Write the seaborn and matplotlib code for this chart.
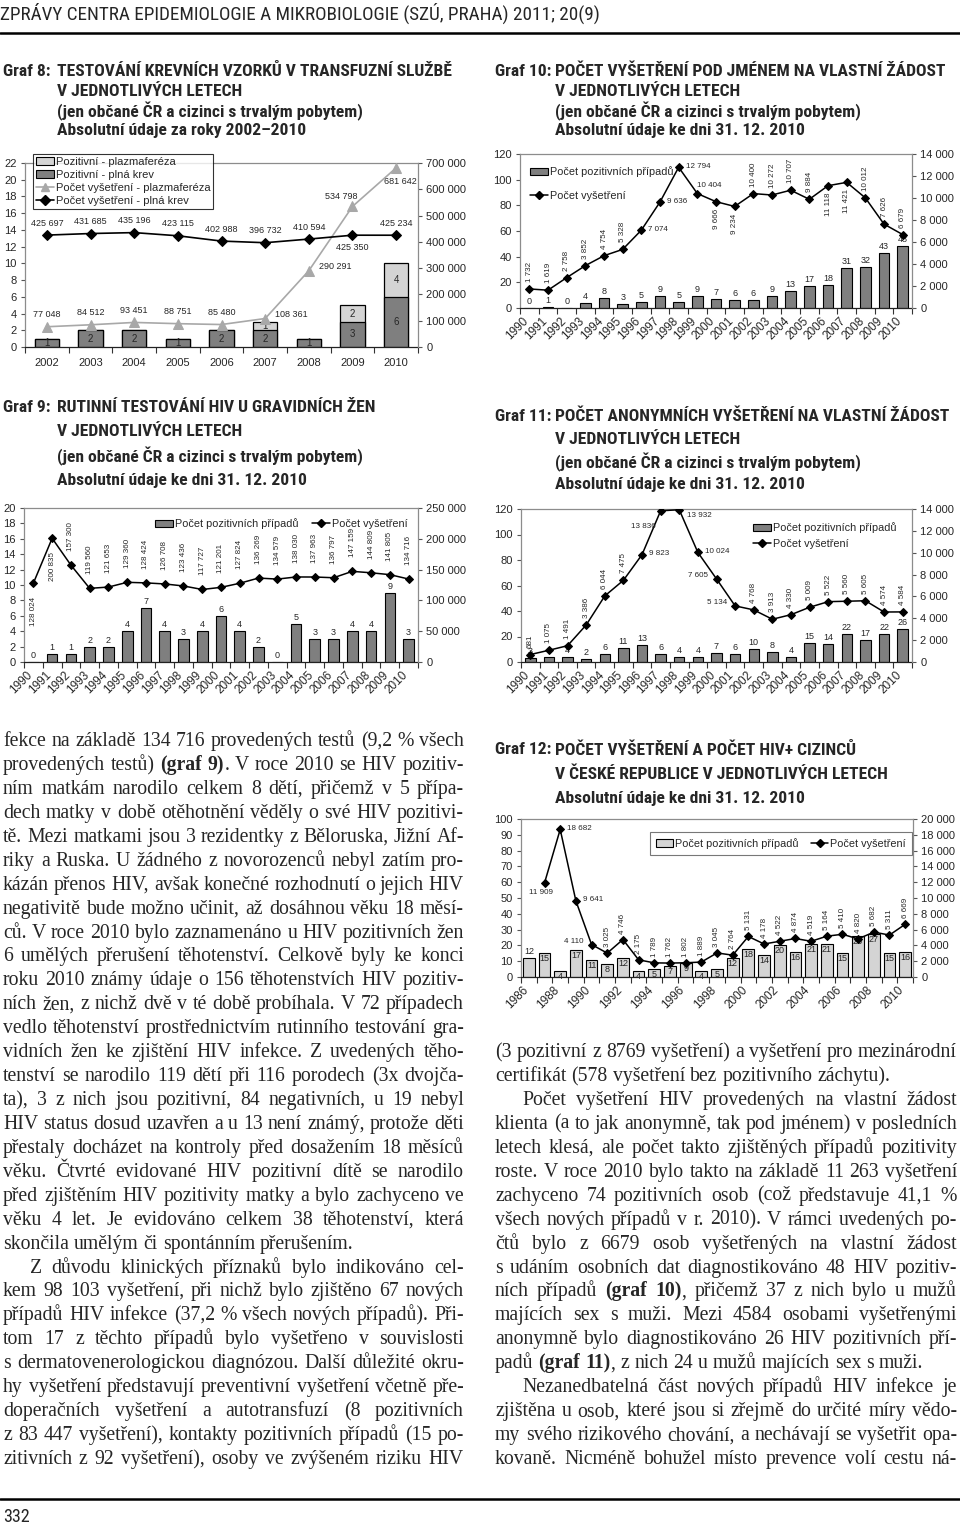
import numpy as np
import matplotlib
matplotlib.use("Agg")
import matplotlib.pyplot as plt
import matplotlib.patches as mpatches
import matplotlib.transforms as mtrans
from matplotlib.lines import Line2D
from matplotlib import font_manager
from matplotlib.font_manager import FontProperties
import seaborn as sns

# ----------------------------
# Data
# ----------------------------
g8_years = ["2002", "2003", "2004", "2005", "2006", "2007", "2008", "2009", "2010"]
g8_pos_krev = [1, 2, 2, 1, 2, 2, 1, 3, 6]
g8_pos_plazma = [0, 0, 0, 0, 0, 1, 0, 2, 4]
g8_vys_krev = [425697, 431685, 435196, 423115, 402988, 396732, 410594, 425350, 425234]
g8_vys_plazma = [77048, 84512, 93451, 88751, 85480, 108361, 290291, 534798, 681642]

years_90 = [str(y) for y in range(1990, 2011)]

g9_pos = [0, 1, 1, 2, 2, 4, 7, 4, 3, 4, 6, 4, 2, 0, 5, 3, 3, 4, 4, 9, 3]
g9_vys = [128024, 200835, 157300, 119560, 121653, 129360, 128424, 126708, 123436,
          117727, 121201, 127824, 136269, 134579, 138030, 137963, 136797, 147159,
          144809, 141805, 134716]

g10_pos = [0, 1, 0, 4, 8, 3, 5, 9, 5, 9, 7, 6, 6, 9, 13, 17, 18, 31, 32, 43, 48]
g10_vys = [1732, 1619, 2758, 3852, 4754, 5328, 7074, 9636, 12794, 10404, 9666,
           9234, 10400, 10272, 10707, 9884, 11118, 11421, 10012, 7626, 6679]

g11_pos = [3, 4, 4, 2, 6, 11, 13, 6, 4, 4, 7, 6, 10, 8, 4, 15, 14, 22, 17, 22, 26]
g11_vys = [681, 1075, 1491, 3386, 6044, 7475, 9823, 13836, 13932, 10024, 7605,
           5134, 4768, 3913, 4330, 5009, 5522, 5560, 5605, 4574, 4584]

g12_years = [str(y) for y in range(1986, 2011)]
g12_pos = [12, 15, 4, 17, 11, 8, 12, 4, 5, 7, 9, 4, 5, 12, 18, 14, 20, 16, 21, 21,
           15, 26, 27, 15, 16]
g12_vys_years = g12_years[1:]
g12_vys = [11909, 18682, 9641, 4110, 3025, 4746, 2175, 1789, 1762, 1802, 1889, 3045,
           2764, 5131, 4178, 4522, 4874, 4519, 5164, 5410, 4820, 5682, 5311, 6669]

LEG_POS = "Počet pozitivních případů"
LEG_VYS = "Počet vyšetření"

# ----------------------------
# Page text
# ----------------------------
HEADER = "ZPRÁVY CENTRA EPIDEMIOLOGIE A MIKROBIOLOGIE (SZÚ, PRAHA) 2011; 20(9)"
PAGE_NO = "332"

T8 = ["TESTOVÁNÍ KREVNÍCH VZORKŮ V TRANSFUZNÍ SLUŽBĚ", "V JEDNOTLIVÝCH LETECH",
      "(jen občané ČR a cizinci s trvalým pobytem)", "Absolutní údaje za roky 2002–2010"]
T10 = ["POČET VYŠETŘENÍ POD JMÉNEM NA VLASTNÍ ŽÁDOST", "V JEDNOTLIVÝCH LETECH",
       "(jen občané ČR a cizinci s trvalým pobytem)", "Absolutní údaje ke dni 31. 12. 2010"]
T9 = ["RUTINNÍ TESTOVÁNÍ HIV U GRAVIDNÍCH ŽEN", "V JEDNOTLIVÝCH LETECH",
      "(jen občané ČR a cizinci s trvalým pobytem)", "Absolutní údaje ke dni 31. 12. 2010"]
T11 = ["POČET ANONYMNÍCH VYŠETŘENÍ NA VLASTNÍ ŽÁDOST", "V JEDNOTLIVÝCH LETECH",
       "(jen občané ČR a cizinci s trvalým pobytem)", "Absolutní údaje ke dni 31. 12. 2010"]
T12 = ["POČET VYŠETŘENÍ A POČET HIV+ CIZINCŮ", "V ČESKÉ REPUBLICE V JEDNOTLIVÝCH LETECH",
       "Absolutní údaje ke dni 31. 12. 2010"]

# ">" = indented first line, "|" = last line of paragraph, **..** = bold
LEFT_TEXT = [
    "fekce na základě 134 716 provedených testů (9,2 % všech",
    "provedených testů) **(graf 9)**. V roce 2010 se HIV pozitiv-",
    "ním matkám narodilo celkem 8 dětí, přičemž v 5 přípa-",
    "dech matky v době otěhotnění věděly o své HIV pozitivi-",
    "tě. Mezi matkami jsou 3 rezidentky z Běloruska, Jižní Af-",
    "riky a Ruska. U žádného z novorozenců nebyl zatím pro-",
    "kázán přenos HIV, avšak konečné rozhodnutí o jejich HIV",
    "negativitě bude možno učinit, až dosáhnou věku 18 měsí-",
    "ců. V roce 2010 bylo zaznamenáno u HIV pozitivních žen",
    "6 umělých přerušení těhotenství. Celkově byly ke konci",
    "roku 2010 známy údaje o 156 těhotenstvích HIV pozitiv-",
    "ních žen, z nichž dvě v té době probíhala. V 72 případech",
    "vedlo těhotenství prostřednictvím rutinního testování gra-",
    "vidních žen ke zjištění HIV infekce. Z uvedených těho-",
    "tenství se narodilo 119 dětí při 116 porodech (3x dvojča-",
    "ta), 3 z nich jsou pozitivní, 84 negativních, u 19 nebyl",
    "HIV status dosud uzavřen a u 13 není známý, protože děti",
    "přestaly docházet na kontroly před dosažením 18 měsíců",
    "věku. Čtvrté evidované HIV pozitivní dítě se narodilo",
    "před zjištěním HIV pozitivity matky a bylo zachyceno ve",
    "věku 4 let. Je evidováno celkem 38 těhotenství, která",
    "skončila umělým či spontánním přerušením.|",
    ">Z důvodu klinických příznaků bylo indikováno cel-",
    "kem 98 103 vyšetření, při nichž bylo zjištěno 67 nových",
    "případů HIV infekce (37,2 % všech nových případů). Při-",
    "tom 17 z těchto případů bylo vyšetřeno v souvislosti",
    "s dermatovenerologickou diagnózou. Další důležité okru-",
    "hy vyšetření představují preventivní vyšetření včetně pře-",
    "doperačních vyšetření a autotransfuzí (8 pozitivních",
    "z 83 447 vyšetření), kontakty pozitivních případů (15 po-",
    "zitivních z 92 vyšetření), osoby ve zvýšeném riziku HIV",
]

RIGHT_TEXT = [
    "(3 pozitivní z 8769 vyšetření) a vyšetření pro mezinárodní",
    "certifikát (578 vyšetření bez pozitivního záchytu).|",
    ">Počet vyšetření HIV provedených na vlastní žádost",
    "klienta (a to jak anonymně, tak pod jménem) v posledních",
    "letech klesá, ale počet takto zjištěných případů pozitivity",
    "roste. V roce 2010 bylo takto na základě 11 263 vyšetření",
    "zachyceno 74 pozitivních osob (což představuje 41,1 %",
    "všech nových případů v r. 2010). V rámci uvedených po-",
    "čtů bylo z 6679 osob vyšetřených na vlastní žádost",
    "s udáním osobních dat diagnostikováno 48 HIV pozitiv-",
    "ních případů **(graf 10)**, přičemž 37 z nich bylo u mužů",
    "majících sex s muži. Mezi 4584 osobami vyšetřenými",
    "anonymně bylo diagnostikováno 26 HIV pozitivních pří-",
    "padů **(graf 11)**, z nich 24 u mužů majících sex s muži.|",
    ">Nezanedbatelná část nových případů HIV infekce je",
    "zjištěna u osob, které jsou si zřejmě do určité míry vědo-",
    "my svého rizikového chování, a nechávají se vyšetřit opa-",
    "kovaně. Nicméně bohužel místo prevence volí cestu ná-",
]

# ----------------------------
# Style
# ----------------------------
sns.set_style("ticks")
_names = {f.name for f in font_manager.fontManager.ttflist}
# sizes for title, header, page number
if "Liberation Sans Narrow" in _names:
    NARROW, SZ_T, SZ_H, SZ_P = "Liberation Sans Narrow", 11.8, 13.5, 13.5
elif "Roboto Condensed" in _names:
    NARROW, SZ_T, SZ_H, SZ_P = "Roboto Condensed", 12.6, 13.8, 13.1
else:
    NARROW, SZ_T, SZ_H, SZ_P = "Liberation Sans", 10.4, 11.3, 11.5
SANS = "Liberation Sans"
SERIF = "Liberation Serif"
plt.rcParams["font.family"] = [SANS, "DejaVu Sans"]

DARK = "#7f7f7f"
LIGHT = "#d4d4d4"
TRI = "#a8a8a8"
FRAME = "#8c8c8c"

W, H = 960, 1531
fig = plt.figure(figsize=(W / 100, H / 100), dpi=100)
fig.patch.set_facecolor("white")


def box(x0, y0, x1, y1):
    return [x0 / W, 1 - y1 / H, (x1 - x0) / W, (y1 - y0) / H]


def ptext(x, y, s, **kw):
    return fig.text(x / W, 1 - y / H, s, **kw)


def fmt(v):
    return f"{v:,}".replace(",", " ")


# label placement codes: dx, dy (pixels), ha, va, rotation
PLACE = {
    "A": (0, 12, "center", "center", 0),
    "B": (0, -12, "center", "center", 0),
    "r": (7, 1, "left", "center", 0),
    "R": (10, 4, "left", "center", 0),
    "l": (-8, 3, "right", "center", 0),
    "U": (-11, 10, "center", "center", 0),
    "D": (4, -14, "center", "center", 0),
    "u": (0, 8, "left", "center", 0),
    "L": (-5, -16, "right", "center", 0),
    "E": (8, -6, "left", "center", 0),
    "S": (-4, -10, "center", "center", 0),
}


def line_labels(ax, xs, vals, codes, size, voff=7):
    for x, v, c in zip(xs, vals, codes):
        if c == "a":
            dx, dy, ha, va, rot = 0, voff, "center", "bottom", 90
        elif c == "b":
            dx, dy, ha, va, rot = 0, -voff, "center", "top", 90
        else:
            dx, dy, ha, va, rot = PLACE[c]
        ax.annotate(fmt(v), (x, v), xytext=(dx, dy), textcoords="offset pixels",
                    ha=ha, va=va, rotation=rot, fontsize=size, family=SANS)


def frame(ax, ax2, n):
    for s in ["left", "top", "right"]:
        ax.spines[s].set_color(FRAME)
        ax.spines[s].set_linewidth(0.9)
    ax.spines["right"].set_visible(False)
    ax.spines["bottom"].set_color("#222222")
    ax.spines["bottom"].set_linewidth(0.9)
    for s in ["left", "top", "bottom"]:
        ax2.spines[s].set_visible(False)
    ax2.spines["right"].set_color(FRAME)
    ax2.spines["right"].set_linewidth(0.9)
    ax.set_xlim(-0.5, n - 0.5)
    ax.set_xticks(np.arange(n + 1) - 0.5, minor=True)
    ax.tick_params(axis="x", which="minor", length=4, width=0.8, color="#333333")
    ax.tick_params(axis="x", which="major", length=0)
    ax.tick_params(axis="y", length=3, width=0.8, color="#555555", labelsize=8, pad=3)
    ax2.tick_params(axis="y", length=3, width=0.8, color="#555555", labelsize=8, pad=3)
    ax.set_xlabel("")
    ax.set_ylabel("")
    ax2.set_ylabel("")


def right_axis(ax2, top, step):
    ticks = np.arange(0, top + 1, step)
    ax2.set_ylim(0, top)
    ax2.set_yticks(ticks)
    ax2.set_yticklabels([fmt(int(t)) for t in ticks])


def rot_labels(ax, pos, labels):
    ax.set_xticks(pos)
    ax.set_xticklabels(labels, rotation=45, ha="right", va="top",
                       rotation_mode="anchor", fontsize=8.5)
    ax.tick_params(axis="x", which="major", pad=5)
    off = mtrans.ScaledTranslation(-5 / 72, 0, fig.dpi_scale_trans)
    for t in ax.get_xticklabels():
        t.set_transform(t.get_transform() + off)


def title(x_lab, x_txt, y0, dy, lab, lines):
    tfont = dict(family=NARROW, weight="bold", fontsize=SZ_T, va="center")
    ptext(x_lab, y0, lab, **tfont)
    for i, s in enumerate(lines):
        ptext(x_txt, y0 + i * dy, s, **tfont)


def legend(ax, handles, x, y, **kw):
    opts = dict(loc="upper left", bbox_to_anchor=(x / W, 1 - y / H),
                bbox_transform=fig.transFigure, frameon=False, borderaxespad=0,
                prop=FontProperties(family=SANS, size=7.8), handlelength=1.6,
                handleheight=0.7, handletextpad=0.2, borderpad=0.3)
    opts.update(kw)
    leg = ax.legend(handles=handles, **opts)
    return leg


def bar_patch(color, label):
    return mpatches.Patch(facecolor=color, edgecolor="black", linewidth=0.8, label=label)


def dia_line(label):
    return Line2D([], [], color="black", marker="D", markersize=4.5, linewidth=1.1, label=label)


def combo(px, xlabels, pos, line_x, vys, lmax, lstep, rmax, rstep, codes, voff,
          bar_w, bar_color, inside=False, every=1):
    ax = fig.add_axes(box(*px))
    ax2 = ax.twinx()
    n = len(xlabels)
    sns.barplot(x=xlabels, y=pos, color=bar_color, edgecolor="black", linewidth=0.8,
                width=bar_w, saturation=1, errorbar=None, ax=ax)
    sns.lineplot(x=line_x, y=vys, color="black", marker="D", markersize=4.5,
                 markeredgecolor="black", linewidth=1.1, ax=ax2)
    ax.set_ylim(0, lmax)
    ax.set_yticks(np.arange(0, lmax + 1, lstep))
    right_axis(ax2, rmax, rstep)
    frame(ax, ax2, n)
    rot_labels(ax, np.arange(0, n, every), xlabels[::every])
    for i, v in enumerate(pos):
        if inside and i > 0:
            ax.annotate(str(v), (i, v), xytext=(0, -1), textcoords="offset pixels",
                        ha="center", va="top", fontsize=6.5, family=SANS)
        else:
            ax.annotate(str(v), (i, v), xytext=(0, 2), textcoords="offset pixels",
                        ha="center", va="bottom", fontsize=6.5, family=SANS)
    line_labels(ax2, line_x, vys, codes, 5.8, voff)
    return ax, ax2


# ----------------------------
# Header / footer
# ----------------------------
ptext(0, 13, HEADER, family=NARROW, fontsize=SZ_H, va="center")
fig.add_artist(Line2D([0, 1], [1 - 33 / H] * 2, transform=fig.transFigure, color="black", lw=1.8))
fig.add_artist(Line2D([0, 1], [1 - 1499 / H] * 2, transform=fig.transFigure, color="black", lw=1.8))
ptext(3, 1517, PAGE_NO, family=NARROW, fontsize=SZ_P, va="center")

# ----------------------------
# Graf 8
# ----------------------------
title(3, 57, 71, 20, "Graf 8:", T8)
ax = fig.add_axes(box(25, 163, 418, 347))
ax2 = ax.twinx()
g8_total = [a + b for a, b in zip(g8_pos_krev, g8_pos_plazma)]
sns.barplot(x=g8_years, y=g8_total, color=LIGHT, edgecolor="black", linewidth=0.9,
            width=0.55, saturation=1, errorbar=None, ax=ax)
sns.barplot(x=g8_years, y=g8_pos_krev, color=DARK, edgecolor="black", linewidth=0.9,
            width=0.55, saturation=1, errorbar=None, ax=ax)
x8 = np.arange(len(g8_years))
sns.lineplot(x=x8, y=g8_vys_plazma, color=TRI, marker="^", markersize=6.5,
             markeredgecolor=TRI, linewidth=1.2, ax=ax2)
sns.lineplot(x=x8, y=g8_vys_krev, color="black", marker="D", markersize=5.5,
             markeredgecolor="black", linewidth=1.2, ax=ax2)
ax.set_ylim(0, 22)
ax.set_yticks(np.arange(0, 23, 2))
right_axis(ax2, 700000, 100000)
frame(ax, ax2, len(g8_years))
ax.set_xticks(x8)
ax.set_xticklabels(g8_years, fontsize=8)
ax.tick_params(axis="x", which="major", pad=8)
for i, (k, p) in enumerate(zip(g8_pos_krev, g8_pos_plazma)):
    ax.text(i, k / 2, str(k), ha="center", va="center", fontsize=7, family=SANS)
    if p > 0:
        ax.text(i, k + p / 2, str(p), ha="center", va="center", fontsize=7, family=SANS)
line_labels(ax2, x8, g8_vys_krev, ["A"] * 7 + ["B", "A"], 6.5)
line_labels(ax2, x8, g8_vys_plazma, ["A"] * 5 + ["R", "R", "U", "D"], 6.5)
h8 = [bar_patch(LIGHT, "Pozitivní - plazmaferéza"),
      bar_patch(DARK, "Pozitivní - plná krev"),
      Line2D([], [], color=TRI, marker="^", markersize=6, linewidth=1.2,
             label="Počet vyšetření - plazmaferéza"),
      Line2D([], [], color="black", marker="D", markersize=5, linewidth=1.2,
             label="Počet vyšetření - plná krev")]
leg = legend(ax2, h8, 33, 154, frameon=True, fancybox=False, edgecolor="black",
             labelspacing=0.28, borderpad=0.25, prop=FontProperties(family=SANS, size=8))
leg.get_frame().set_linewidth(0.8)

# ----------------------------
# Graf 10
# ----------------------------
title(495, 555, 71, 20, "Graf 10:", T10)
codes10 = ["a"] * 6 + ["r", "r", "r", "u", "b", "b"] + ["a"] * 4 + ["b", "b"] + ["a"] * 3
ax, ax2 = combo((520, 154, 912, 308), years_90, g10_pos, np.arange(21), g10_vys,
                120, 20, 14000, 2000, codes10, 7, 0.58, DARK)
legend(ax2, [bar_patch(DARK, LEG_POS), dia_line(LEG_VYS)], 527, 163, labelspacing=1.25)

# ----------------------------
# Graf 9
# ----------------------------
title(3, 57, 408, 24, "Graf 9:", T9)
codes9 = ["b", "b"] + ["a"] * 19
ax, ax2 = combo((24, 508, 418, 662), years_90, g9_pos, np.arange(21), g9_vys,
                20, 2, 250000, 50000, codes9, 14, 0.57, DARK)
legend(ax2, [bar_patch(DARK, LEG_POS), dia_line(LEG_VYS)], 152, 515, ncol=2,
       columnspacing=1.3)

# ----------------------------
# Graf 11
# ----------------------------
title(495, 555, 416, 23, "Graf 11:", T11)
codes11 = ["a"] * 6 + ["r", "L", "E", "r", "l", "l"] + ["a"] * 9
ax, ax2 = combo((521, 509, 912, 662), years_90, g11_pos, np.arange(21), g11_vys,
                120, 20, 14000, 2000, codes11, 7, 0.56, DARK)
legend(ax2, [bar_patch(DARK, LEG_POS), dia_line(LEG_VYS)], 750, 519, labelspacing=0.55)

# ----------------------------
# Graf 12
# ----------------------------
title(495, 555, 750, 24, "Graf 12:", T12)
codes12 = ["S", "r", "r", "l"] + ["a"] * 20
ax, ax2 = combo((521, 819, 913, 977), g12_years, g12_pos, np.arange(1, 25), g12_vys,
                100, 10, 20000, 2000, codes12, 6, 0.75, LIGHT, inside=True, every=2)
leg = legend(ax2, [bar_patch(LIGHT, LEG_POS), dia_line(LEG_VYS)], 650, 832, ncol=2,
             frameon=True, fancybox=False, edgecolor="#555555", columnspacing=1.1,
             borderpad=0.55)
leg.get_frame().set_linewidth(0.8)

# ----------------------------
# Body text (justified)
# ----------------------------
BODY_SIZE = 14.2
renderer = fig.canvas.get_renderer()


def tokens(line):
    words = [[]]
    for k, seg in enumerate(line.split("**")):
        bold = k % 2 == 1
        for j, p in enumerate(seg.split(" ")):
            if j > 0:
                words.append([])
            if p:
                words[-1].append((p, bold))
    return [w for w in words if w]


def tw(s, bold):
    prop = FontProperties(family=SERIF, size=BODY_SIZE, weight="bold" if bold else "normal")
    w, _, _ = renderer.get_text_width_height_descent(s, prop, ismath=False)
    return w


SPACE = tw("a a", False) - tw("aa", False)


def body(lines, x0, x1, y_last, dy, indent=27):
    n = len(lines)
    for i, raw in enumerate(lines):
        y = y_last - (n - 1 - i) * dy + 5
        first = raw.startswith(">")
        last = raw.endswith("|")
        words = tokens(raw.strip(">|"))
        widths = [sum(tw(s, b) for s, b in w) for w in words]
        x = x0 + (indent if first else 0)
        if last or len(words) < 2:
            gap = SPACE
        else:
            gap = (x1 - x - sum(widths)) / (len(words) - 1)
        for w, wd in zip(words, widths):
            xx = x
            for s, b in w:
                ptext(xx, y, s, family=SERIF, fontsize=BODY_SIZE,
                      weight="bold" if b else "normal", va="baseline", ha="left")
                xx += tw(s, b)
            x += wd + gap


body(LEFT_TEXT, 3, 464, 1459, 23.93)
body(RIGHT_TEXT, 495, 957, 1459, 23.93)

fig.savefig("out.png", dpi=100, facecolor="white")
plt.close(fig)
